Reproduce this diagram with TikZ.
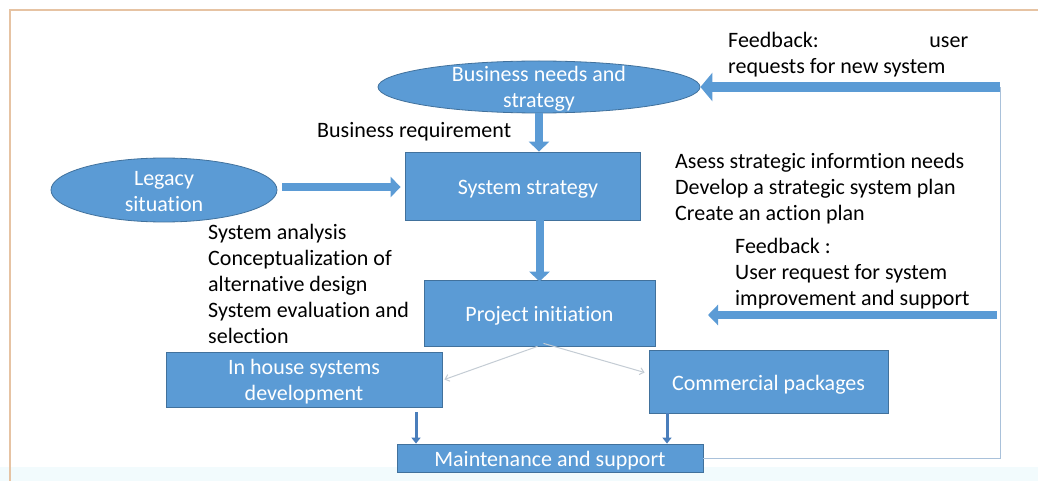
\documentclass[tikz,border=0pt]{standalone}
\usepackage{fontspec}
\setmainfont{Carlito}[Ligatures=NoCommon]
\usetikzlibrary{arrows.meta,shapes.geometric}
\definecolor{boxblue}{HTML}{5B9BD5}
\definecolor{edgeblue}{HTML}{41719C}
\definecolor{framec}{HTML}{E6C3A3}
\definecolor{thinline}{HTML}{A9C1DA}
\definecolor{grayline}{HTML}{C4CCD4}
\definecolor{bandc}{HTML}{F2FBFD}
\definecolor{darkarrow}{HTML}{4A7EBB}
\begin{document}
\begin{tikzpicture}[x=1pt,y=-1pt,
  every node/.style={font=\fontsize{22}{26}\selectfont},
  bluebox/.style={draw=edgeblue,line width=0.8pt,fill=boxblue,inner sep=0pt},
  blueell/.style={ellipse,draw=edgeblue,line width=0.8pt,fill=boxblue,inner sep=0pt},
  intext/.style={text=white,align=center,inner sep=0pt},
  plain/.style={align=left,inner sep=0pt,anchor=west,text=black},
  bigarrow/.style={boxblue,line width=10pt,-{Triangle[width=28pt,length=12pt]}},
  midarrow/.style={boxblue,line width=8pt,-{Triangle[width=20pt,length=10pt]}},
  smallarrow/.style={darkarrow,line width=3pt,-{Triangle[width=9pt,length=6pt]}},
  thinarrow/.style={grayline,line width=1pt,-{Straight Barb[width=7pt,length=4pt]}},
  fbline/.style={thinline,line width=1pt}]
\useasboundingbox (0,0) rectangle (1038,481);
\fill[white] (0,0) rectangle (1038,481);
\fill[bandc] (0,467) rectangle (1038,481);
\draw[framec,line width=1.5pt] (10,481) -- (10,10) -- (1038,10);

% ellipses
\node[blueell,minimum width=322pt,minimum height=52pt] (bn) at (539,87) {};
\node[intext] (bnt) at (539,88.5) {Business needs and\\strategy};
\node[blueell,minimum width=226pt,minimum height=64pt] (leg) at (164,190) {};
\node[intext] (legt) at (164,191.5) {Legacy\\situation};

% boxes
\node[bluebox,minimum width=235pt,minimum height=68pt] (ss) at (522.5,186) {};
\node[intext] (sst) at (528,189) {System strategy};
\node[bluebox,minimum width=231pt,minimum height=66pt] (pi) at (539.5,313) {};
\node[intext] (pit) at (539.5,316) {Project initiation};
\node[bluebox,minimum width=276pt,minimum height=55pt] (ih) at (304,379.5) {};
\node[intext] (iht) at (304,382) {In house systems\\development};
\node[bluebox,minimum width=239pt,minimum height=63pt] (cp) at (768.5,381.5) {};
\node[intext] (cpt) at (768.5,384.5) {Commercial packages};
\node[bluebox,minimum width=306pt,minimum height=28pt] (mt) at (550,458) {};
\node[intext] (mtt) at (550,461) {Maintenance and support};

% texts
\node[plain] (fb1t) at (728,55) {\makebox[240pt][s]{Feedback:\hfill user}\\requests for new system};
\node[plain] (brt) at (317,132) {Business requirement};
\node[plain] (sat2) at (675,189) {Asess strategic informtion needs\\Develop a strategic system plan\\Create an action plan};
\node[plain] (sat) at (208,284) {System analysis\\Conceptualization of\\alternative design\\System evaluation and\\selection};
\node[plain] (fb2t) at (735,274) {Feedback :\\User request for system\\improvement and support};

% coordinates
\coordinate (fbtop) at (1000,87);
\coordinate (fbmid) at (997,315);
\coordinate (fbend) at (708,315);
\coordinate (legrow) at (0,187);
\coordinate (ihx) at (416,412);
\coordinate (cpx) at (667,413);

% feedback thin line
\draw[fbline] (mt.east) -- (fbtop |- mt.east) -- (fbtop);

% block arrows
\draw[bigarrow] (fbtop) -- (bn.east);
\draw[midarrow] (fbmid) -- (fbend);
\draw[midarrow] (bn.south) -- (bn.south |- ss.north);
\draw[midarrow] ([xshift=5pt]leg.east |- legrow) -- ([xshift=-4pt]ss.west |- legrow);
\draw[midarrow] (pi.north |- ss.south) -- ([yshift=-2pt]pi.north);

% thin arrows
\draw[thinarrow] ([xshift=-2pt]pi.south) -- ([xshift=2pt]ih.east);
\draw[thinarrow] ([xshift=4pt,yshift=3pt]pi.south) -- ([xshift=-4pt,yshift=9pt]cp.west);

% small arrows to maintenance
\draw[smallarrow] (ihx) -- (ihx |- mt.north);
\draw[smallarrow] (cpx) -- (cpx |- mt.north);
\end{tikzpicture}
\end{document}
